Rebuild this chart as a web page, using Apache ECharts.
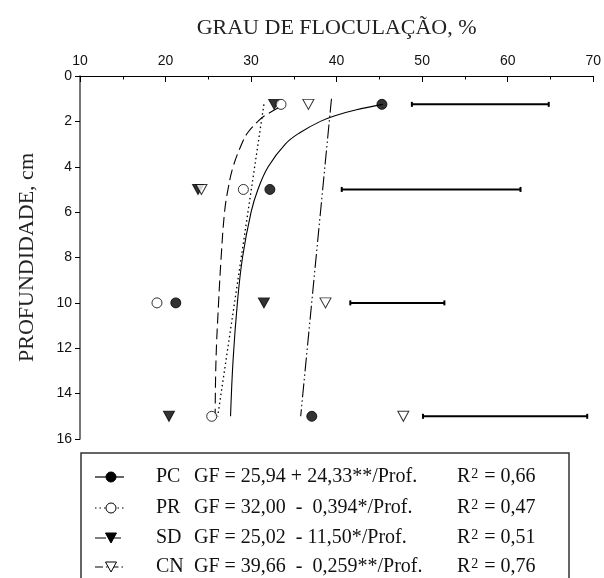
<!DOCTYPE html>
<html>
<head>
<meta charset="utf-8">
<script src="https://cdn.jsdelivr.net/npm/echarts@6/dist/echarts.min.js"></script>
<style>
html,body{margin:0;padding:0;background:#fff;}
#chart{width:604px;height:578px;}
</style>
</head>
<body>
<div id="chart"></div>
<script>
// ---- data ----
const depths = [1.25, 5, 10, 15];
const pcGF = [45.3, 32.2, 21.2, 37.1];
const prGF = [33.5, 29.1, 19.0, 25.4];
const sdGF = [32.7, 23.8, 31.5, 20.4];
const cnGF = [36.7, 24.2, 38.7, 47.8];
const barLow = [48.8, 40.6, 41.6, 50.1];
const barHigh = [64.8, 61.5, 52.6, 69.3];

// fitted curves (depth, GF)
const pcCurveDepth = [1.25, 1.5, 1.75, 2, 2.5, 3, 4, 5, 6, 8, 10, 12.5, 15];
const pcCurveGF = [45.4, 42.2, 39.8, 38.1, 35.7, 34.0, 32.0, 30.8, 30.0, 29.0, 28.4, 27.9, 27.6];
const sdCurveDepth = [1.4, 1.75, 2, 2.5, 3, 4, 5, 6, 8, 10, 12.5, 15];
const sdCurveGF = [33.2, 31.6, 30.8, 29.6, 28.9, 27.9, 27.3, 26.9, 26.5, 26.2, 25.9, 25.8];
const prCurveDepth = [1.25, 15];
const prCurveGF = [31.5, 26.1];
const cnCurveDepth = [1.0, 15];
const cnCurveGF = [39.4, 35.8];

const xTicks = [10, 20, 30, 40, 50, 60, 70];
const yTicks = [0, 2, 4, 6, 8, 10, 12, 14, 16];

const legendCodes = ['PC', 'PR', 'SD', 'CN'];
const legendEqs = ['GF = 25,94 + 24,33**/Prof.', 'GF = 32,00  -  0,394*/Prof.', 'GF = 25,02  - 11,50*/Prof.', 'GF = 39,66  -  0,259**/Prof.'];
const legendR2 = ['0,66', '0,47', '0,51', '0,76'];

// ---- build ----
const pts = (g) => g.map((v, i) => [v, depths[i]]);
const curve = (d, g) => d.map((v, i) => [g[i], v]);
const serif = 'Liberation Serif';
const sans = 'Liberation Sans';

const filled = { color: '#000', borderColor: '#000', borderWidth: 1 };
const open = { color: '#fff', borderColor: '#000', borderWidth: 1 };

const series = [
  { name: 'PCc', type: 'line', data: curve(pcCurveDepth, pcCurveGF), smooth: 0.4, symbol: 'none', lineStyle: { color: '#000', width: 1.1, type: 'solid' }, z: 2 },
  { name: 'PRc', type: 'line', data: curve(prCurveDepth, prCurveGF), symbol: 'none', lineStyle: { color: '#000', width: 1.3, type: [1.5, 3] }, z: 2 },
  { name: 'SDc', type: 'line', data: curve(sdCurveDepth, sdCurveGF), smooth: 0.4, symbol: 'none', lineStyle: { color: '#000', width: 1.1, type: [11, 5] }, z: 2 },
  { name: 'CNc', type: 'line', data: curve(cnCurveDepth, cnCurveGF), symbol: 'none', lineStyle: { color: '#000', width: 1.1, type: [14, 3, 1.5, 3, 1.5, 3] }, z: 2 },
  { name: 'SD', type: 'scatter', data: pts(sdGF), symbol: 'triangle', symbolRotate: 180, symbolSize: [11, 10], itemStyle: filled, z: 3 },
  { name: 'CN', type: 'scatter', data: pts(cnGF), symbol: 'triangle', symbolRotate: 180, symbolSize: [11, 10], itemStyle: open, z: 4 },
  { name: 'PR', type: 'scatter', data: pts(prGF), symbol: 'circle', symbolSize: 10, itemStyle: open, z: 4 },
  { name: 'PC', type: 'scatter', data: pts(pcGF), symbol: 'circle', symbolSize: 10, itemStyle: filled, z: 5 },
  {
    name: 'bars', type: 'custom',
    data: barLow.map((v, i) => [v, barHigh[i], depths[i]]),
    renderItem: function (params, api) {
      const a = api.coord([api.value(0), api.value(2)]);
      const b = api.coord([api.value(1), api.value(2)]);
      return {
        type: 'group', children: [
          { type: 'line', shape: { x1: a[0], y1: a[1], x2: b[0], y2: b[1] }, style: { stroke: '#000', lineWidth: 2 } },
          { type: 'line', shape: { x1: a[0], y1: a[1] - 2.5, x2: a[0], y2: a[1] + 2.5 }, style: { stroke: '#000', lineWidth: 2 } },
          { type: 'line', shape: { x1: b[0], y1: b[1] - 2.5, x2: b[0], y2: b[1] + 2.5 }, style: { stroke: '#000', lineWidth: 2 } }
        ]
      };
    },
    encode: { x: [0, 1], y: 2 }, z: 3
  }
];

// legend graphic
const rowY = [477, 508, 538, 567];
const gElems = [{ type: 'rect', shape: { x: 81, y: 453, width: 488, height: 200 }, style: { fill: 'none', stroke: '#333', lineWidth: 1.5 }, z: 10 }];
const sampleDash = [null, [1.5, 3], [11, 4], [8, 3, 1.5, 3]];
legendCodes.forEach((c, i) => {
  const y = rowY[i];
  gElems.push({ type: 'line', shape: { x1: 95, y1: y, x2: 124, y2: y }, style: { stroke: '#000', lineWidth: 1.2, lineDash: sampleDash[i] }, z: 10 });
  if (i < 2) {
    gElems.push({ type: 'circle', shape: { cx: 111, cy: y, r: 5 }, style: { fill: i === 0 ? '#000' : '#fff', stroke: '#000', lineWidth: 1 }, z: 11 });
  } else {
    gElems.push({ type: 'polygon', shape: { points: [[105.5, y - 5], [116.5, y - 5], [111, y + 5]] }, style: { fill: i === 2 ? '#000' : '#fff', stroke: '#000', lineWidth: 1 }, z: 11 });
  }
  gElems.push({ type: 'text', x: 156, y: y, style: { text: c, font: '20px ' + serif, fill: '#111', verticalAlign: 'middle' }, z: 11 });
  gElems.push({ type: 'text', x: 194, y: y, style: { text: legendEqs[i], font: '20px ' + serif, fill: '#111', verticalAlign: 'middle' }, z: 11 });
  gElems.push({ type: 'text', x: 457, y: y, style: { text: '{r|R}{s|2}{r| = ' + legendR2[i] + '}', verticalAlign: 'middle', rich: { r: { fontFamily: serif, fontSize: 20, fill: '#111' }, s: { fontFamily: serif, fontSize: 14, fill: '#111', padding: [0, 1, 6, 1] } } }, z: 11 });
});

const chart = echarts.init(document.getElementById('chart'), null, { renderer: 'canvas' });
chart.setOption({
  backgroundColor: '#fff',
  animation: false,
  grid: { left: 80, right: 8, top: 76, bottom: 139, containLabel: false },
  xAxis: {
    type: 'value', position: 'top', min: xTicks[0], max: xTicks[xTicks.length - 1], interval: 10,
    name: 'GRAU DE FLOCULAÇÃO, %', nameLocation: 'middle', nameGap: 37,
    nameTextStyle: { fontFamily: serif, fontSize: 22, color: '#222' },
    axisLine: { show: true, onZero: false, lineStyle: { color: '#000', width: 1.2 } },
    axisTick: { show: true, inside: true, length: 6, lineStyle: { color: '#000' } },
    minorTick: { show: true, splitNumber: 2, length: 3.5, lineStyle: { color: '#000' } },
    axisLabel: { fontFamily: sans, fontSize: 14, color: '#111', margin: 8 },
    splitLine: { show: false }
  },
  yAxis: {
    type: 'value', inverse: true, min: yTicks[0], max: yTicks[yTicks.length - 1], interval: 2,
    name: 'PROFUNDIDADE, cm', nameLocation: 'middle', nameGap: 42, nameRotate: 90,
    nameTextStyle: { fontFamily: serif, fontSize: 22, color: '#222' },
    axisLine: { show: true, onZero: false, lineStyle: { color: '#555', width: 1.6 } },
    axisTick: { show: true, inside: false, length: 5, lineStyle: { color: '#000' } },
    axisLabel: { fontFamily: sans, fontSize: 14, color: '#111', margin: 8 },
    splitLine: { show: false }
  },
  series: series,
  graphic: gElems
});
</script>
</body>
</html>
